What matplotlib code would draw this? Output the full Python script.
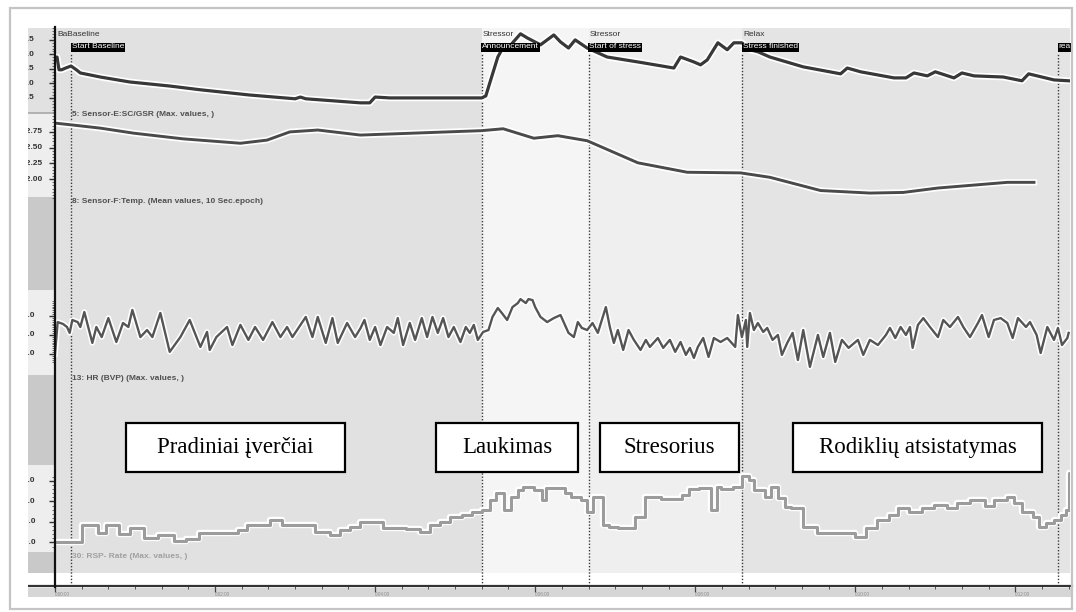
import matplotlib.pyplot as plt
import matplotlib.patheffects as pe
from matplotlib.patches import Rectangle
from matplotlib.lines import Line2D
from matplotlib.transforms import blended_transform_factory
from matplotlib.ticker import MultipleLocator, FixedLocator, FuncFormatter

plt.rcParams['font.family'] = ['Liberation Sans', 'DejaVu Sans']

# session time axis (seconds)
T_END = 761
phase_times = [12, 320, 400, 515, 752]
phase_marks = ["Start Baseline", "Announcement", "Start of stress", "Stress finished", "rea"]
group_times = [2, 321, 401, 516]
group_names = ["BaBaseline", "Stressor", "Stressor", "Relax"]
shade_colors = ['#e1e1e1', '#f5f5f5', '#efefef', '#e4e4e4']

stage_names = ["Pradiniai įverčiai", "Laukimas", "Stresorius", "Rodiklių atsistatymas"]

# 5: SC/GSR
sc_t = [0, 1.5, 3, 5, 8, 12, 16, 19, 34, 56,
        86, 109, 146, 180, 184, 188, 229, 236, 240, 251,
        320, 323, 326, 332, 335, 341, 345, 349, 354, 364,
        374, 379, 385, 390, 399, 414, 437, 464, 469, 479,
        484, 489, 497, 504, 509, 515, 521, 527, 536, 561,
        589, 594, 604, 629, 638, 644, 654, 660, 674, 680,
        689, 711, 725, 730, 749, 760]
sc_v = [3.81, 3.91, 3.47, 3.47, 3.53, 3.60, 3.47, 3.36, 3.22, 3.05,
        2.91, 2.78, 2.60, 2.47, 2.53, 2.47, 2.33, 2.33, 2.53, 2.50,
        2.50, 2.57, 3.02, 3.91, 4.16, 4.29, 4.50, 4.71, 4.57, 4.33,
        4.67, 4.43, 4.22, 4.50, 4.22, 3.91, 3.74, 3.53, 3.91, 3.74,
        3.64, 3.81, 4.40, 4.16, 4.40, 4.40, 4.16, 4.09, 3.91, 3.57,
        3.33, 3.53, 3.40, 3.19, 3.19, 3.36, 3.26, 3.40, 3.19, 3.36,
        3.26, 3.22, 3.09, 3.33, 3.12, 3.09]
sc_ticks = [4.5, 4.0, 3.5, 3.0, 2.5]

# 8: Temp
temp_t = [0, 13, 34, 59, 96, 139, 159, 176, 197, 229, 320, 336, 359,
          377, 399, 437, 474, 514, 536, 574, 611, 636, 662, 714, 734]
temp_v = [32.89, 32.86, 32.81, 32.73, 32.64, 32.57, 32.62, 32.75, 32.78,
          32.70, 32.77, 32.80, 32.65, 32.69, 32.61, 32.26, 32.11, 32.10,
          32.03, 31.82, 31.78, 31.79, 31.86, 31.95, 31.95]
temp_ticks = [32.75, 32.50, 32.25, 32.00]

# 13: HR
hr_t = [0, 2, 6, 9, 11, 13, 17, 19, 22, 28,
        31, 35, 40, 46, 51, 55, 58, 64, 69, 73,
        79, 86, 94, 101, 109, 114, 116, 121, 129, 133,
        139, 145, 150, 156, 163, 169, 174, 178, 188, 193,
        197, 203, 208, 212, 219, 225, 229, 232, 236, 240,
        244, 249, 254, 257, 261, 266, 270, 275, 279, 283,
        287, 291, 295, 299, 304, 308, 311, 314, 317, 321,
        325, 328, 332, 335, 339, 343, 347, 349, 353, 355,
        358, 360, 364, 369, 374, 379, 383, 385, 389, 392,
        395, 399, 403, 407, 413, 416, 419, 422, 426, 430,
        434, 439, 443, 446, 452, 456, 461, 465, 469, 473,
        476, 479, 482, 486, 490, 494, 499, 504, 510, 512,
        515, 518, 519, 521, 524, 527, 531, 534, 538, 542,
        545, 549, 553, 557, 561, 566, 572, 576, 581, 585,
        590, 595, 602, 606, 611, 617, 623, 626, 630, 634,
        638, 641, 643, 647, 651, 656, 662, 666, 671, 677,
        681, 686, 692, 695, 700, 704, 709, 714, 718, 722,
        728, 731, 736, 739, 744, 749, 752, 755, 759, 760]
hr_v = [70.0, 86.8, 85.8, 84.2, 81.1, 87.9, 86.8, 84.2, 92.1, 75.8,
        84.2, 78.9, 88.9, 76.3, 86.3, 84.2, 93.2, 78.9, 82.6, 78.9,
        91.6, 71.1, 78.9, 87.9, 73.7, 81.6, 72.1, 78.9, 84.2, 74.7,
        85.3, 77.4, 84.2, 77.4, 86.8, 78.9, 84.2, 78.9, 89.5, 78.9,
        89.5, 75.8, 88.9, 75.8, 86.3, 78.9, 83.5, 87.9, 77.4, 84.2,
        74.7, 84.2, 81.1, 88.9, 74.7, 86.3, 77.4, 88.9, 78.9, 89.5,
        81.1, 88.9, 78.9, 84.2, 76.3, 84.2, 81.1, 85.3, 77.4, 81.6,
        82.6, 89.5, 94.2, 91.6, 87.9, 94.7, 96.8, 98.9, 96.8, 98.9,
        98.4, 94.7, 89.5, 86.8, 88.9, 90.5, 84.2, 81.1, 78.9, 86.8,
        83.7, 82.6, 86.3, 81.1, 94.7, 84.2, 75.8, 82.6, 72.1, 82.6,
        77.4, 72.1, 77.4, 73.7, 78.4, 73.2, 77.4, 71.1, 76.3, 69.5,
        73.2, 67.9, 73.7, 78.4, 68.4, 78.4, 76.3, 78.4, 73.7, 90.5,
        78.9, 87.9, 73.7, 91.6, 82.6, 86.3, 81.6, 83.7, 77.4, 80.0,
        69.5, 75.8, 81.1, 66.8, 82.6, 63.2, 80.0, 68.4, 81.1, 65.8,
        77.4, 73.2, 77.4, 69.5, 77.4, 74.7, 80.0, 83.7, 78.4, 84.2,
        80.0, 84.2, 73.2, 85.3, 88.9, 84.2, 78.9, 87.9, 84.2, 89.5,
        84.2, 78.9, 86.3, 90.5, 78.9, 87.9, 88.9, 86.3, 78.4, 88.9,
        84.2, 86.8, 80.0, 70.5, 84.2, 77.4, 83.7, 74.7, 78.4, 81.1]
hr_ticks = [90.0, 80.0, 70.0]

# 30: RSP rate (step values)
rsp_t = [0, 20, 32, 38, 48, 56, 67, 77, 89, 98,
         108, 137, 144, 161, 170, 195, 206, 214, 221, 229,
         246, 263, 274, 281, 289, 296, 305, 313, 320, 326,
         331, 337, 342, 347, 351, 359, 365, 368, 382, 387,
         394, 399, 403, 411, 415, 422, 435, 442, 454, 470,
         475, 483, 492, 496, 499, 508, 515, 520, 524, 532,
         537, 542, 547, 552, 561, 571, 600, 608, 616, 625,
         632, 640, 650, 659, 669, 676, 686, 697, 704, 714,
         719, 725, 733, 738, 743, 749, 754, 758, 760, 761]
rsp_v = [10.0, 14.3, 12.3, 14.3, 12.1, 13.5, 11.1, 11.8, 10.4, 10.9,
         12.3, 13.0, 14.3, 15.5, 14.3, 12.6, 11.8, 13.0, 13.8, 15.0,
         13.5, 13.3, 12.6, 14.3, 15.0, 16.2, 16.7, 17.4, 17.9, 20.4,
         22.1, 17.9, 21.1, 22.8, 23.5, 22.8, 20.4, 23.3, 22.1, 21.1,
         20.4, 17.4, 21.1, 14.3, 13.8, 13.5, 16.2, 21.1, 20.6, 21.6,
         23.0, 23.3, 17.9, 23.5, 23.0, 23.5, 26.2, 25.2, 22.8, 21.1,
         23.5, 20.9, 18.7, 18.4, 13.8, 12.3, 11.3, 13.5, 15.5, 16.7,
         18.4, 17.4, 18.4, 19.1, 18.4, 19.6, 20.4, 18.9, 20.4, 21.1,
         19.6, 17.4, 16.2, 13.8, 14.8, 15.5, 16.7, 17.9, 27.0, 27.0]
rsp_ticks = [25.0, 20.0, 15.0, 10.0]

W, H = 1076, 612


def fx(px):
    return px / W


def fy(py):
    return 1 - py / H


def rect(x0, y0, x1, y1):
    return [fx(x0), fy(y1), (x1 - x0) / W, (y1 - y0) / H]


fig = plt.figure(figsize=(W / 100, H / 100), dpi=100)

# background axes: phase shading, markers, time axis
bg = fig.add_axes(rect(55, 28, 1070, 586))
bg.set_xlim(0, T_END)
bg.set_ylim(0, 1)
bg.set_yticks([])
for s in bg.spines.values():
    s.set_visible(False)
edges = [0] + phase_times[1:4] + [T_END]
for i, c in enumerate(shade_colors):
    bg.axvspan(edges[i], edges[i + 1], ymin=13 / 558, ymax=1, color=c, lw=0)
for t in phase_times:
    bg.axvline(t, ymin=0, ymax=(586 - 53) / 558, color='#3a3a3a', lw=1,
               ls=(0, (1, 1.3)))

bg.xaxis.set_major_locator(MultipleLocator(120))
bg.xaxis.set_minor_locator(MultipleLocator(20))
bg.xaxis.set_major_formatter(FuncFormatter(
    lambda v, p: "%d:%02d:%02d" % (v // 3600, (v % 3600) // 60, v % 60)))
bg.tick_params(axis='x', which='major', length=4, width=0.9, color='#444',
               labelsize=3.3, labelcolor='#8a8a8a', pad=0.5)
bg.tick_params(axis='x', which='minor', length=2, width=0.7, color='#555')
for lab in bg.get_xticklabels():
    lab.set_horizontalalignment('left')


def panel(y0, y1, ylim, ticks, minor, fmt, label_x):
    ax = fig.add_axes(rect(55, y0, 1070, y1))
    ax.set_zorder(1)
    ax.patch.set_alpha(0)
    ax.set_xlim(0, T_END)
    ax.set_ylim(*ylim)
    ax.set_xticks([])
    for s in ax.spines.values():
        s.set_visible(False)
    ax.set_yticks(ticks)
    ax.yaxis.set_minor_locator(minor)
    ax.tick_params(axis='y', which='major', length=4.5, width=1, color='#333',
                   labelleft=False)
    ax.tick_params(axis='y', which='minor', length=2, width=0.6, color='#555')
    tr = blended_transform_factory(fig.transFigure, ax.transData)
    for v in ticks:
        ax.text(fx(label_x), v, fmt.format(v), transform=tr, fontsize=6,
                fontweight='bold', color='#333', ha='left', va='center')
    return ax


def halo(w):
    return [pe.Stroke(linewidth=w, foreground='white'), pe.Normal()]


ax_sc = panel(28, 113, (1.98, 4.91), sc_ticks, MultipleLocator(0.1), "{:.1f}", 23)
ax_sc.plot(sc_t, sc_v, color='#383838', lw=2.3, path_effects=halo(4.8))

ax_tp = panel(113, 200, (31.67, 33.05), temp_ticks, MultipleLocator(0.05), "{:.2f}", 21.5)
ax_tp.plot(temp_t, temp_v, color='#4a4a4a', lw=2.1, path_effects=halo(4.6))

ax_hr = panel(290, 375, (58.9, 103.7), hr_ticks, FixedLocator(list(range(66, 99))),
              "{:.1f}", 19)
ax_hr.plot(hr_t, hr_v, color='#555555', lw=1.7, path_effects=halo(4.0))

ax_rsp = panel(465, 552, (7.68, 28.9), rsp_ticks, FixedLocator(list(range(9, 27))),
               "{:.1f}", 19)
ax_rsp.plot(rsp_t, rsp_v, color='#9c9c9c', lw=2.2, drawstyle='steps-post',
            path_effects=halo(4.6))

# left label strip
strip = [(28, 113, '#e1e1e1'), (113, 197, '#eeeeee'), (197, 290, '#c9c9c9'),
         (290, 375, '#eeeeee'), (375, 465, '#c9c9c9'), (465, 552, '#eeeeee'),
         (552, 573, '#c9c9c9')]
for y0, y1, c in strip:
    fig.add_artist(Rectangle((fx(28), fy(y1)), 27 / W, (y1 - y0) / H,
                             transform=fig.transFigure, color=c, lw=0, zorder=-1))
fig.add_artist(Line2D([fx(28), fx(53)], [fy(113), fy(113)], color='#a8a8a8', lw=1.2,
                      zorder=2))
fig.add_artist(Rectangle((fx(28), fy(597)), 1044 / W, 9 / H, transform=fig.transFigure,
                         color='#d6d6d6', lw=0, zorder=-1))
fig.add_artist(Line2D([fx(28), fx(1072)], [fy(586), fy(586)], color='#333333', lw=1.6,
                      zorder=2))
fig.add_artist(Line2D([fx(55), fx(55)], [fy(27), fy(587)], color='#111111', lw=1.6,
                      zorder=2))
# screenshot crop at the left edge + outer frame
fig.add_artist(Rectangle((fx(11), fy(600)), 17 / W, 580 / H, transform=fig.transFigure,
                         color='white', lw=0, zorder=3))
fig.add_artist(Rectangle((fx(10), fy(609)), 1062 / W, 601 / H, transform=fig.transFigure,
                         fill=False, ec='#c4c4c4', lw=1.6, zorder=4))

# channel captions
captions = [(115, "5: Sensor-E:SC/GSR (Max. values, )", '#505050'),
            (202, "8: Sensor-F:Temp. (Mean values, 10 Sec.epoch)", '#505050'),
            (379, "13: HR (BVP) (Max. values, )", '#505050'),
            (556, "30: RSP- Rate (Max. values, )", '#a0a0a0')]
for y, s, c in captions:
    fig.text(fx(72), fy(y), s, fontsize=6, fontweight='bold', color=c,
             ha='left', va='center', zorder=3)

# event markers (above the traces)
tr_top = blended_transform_factory(bg.transData, fig.transFigure)
for t, s in zip(group_times, group_names):
    fig.text(t, fy(34), s, transform=tr_top, fontsize=6, color='#333',
             ha='left', va='center', zorder=3)
for t, s in zip(phase_times, phase_marks):
    fig.text(t + 0.5, fy(47), s, transform=tr_top, fontsize=6, color='white',
             ha='left', va='center', zorder=3,
             bbox=dict(boxstyle='square,pad=0.12', fc='black', ec='none'))

# stage boxes
boxes = [(126, 423, 345, 472), (436, 423, 578, 472), (600, 423, 739, 472),
         (793, 423, 1042, 472)]
for (x0, y0, x1, y1), s in zip(boxes, stage_names):
    fig.add_artist(Rectangle((fx(x0), fy(y1)), (x1 - x0) / W, (y1 - y0) / H,
                             transform=fig.transFigure, fc='white', ec='black',
                             lw=1.6, zorder=5))
    fig.text(fx((x0 + x1) / 2), fy((y0 + y1) / 2), s, fontsize=16.5,
             family='Liberation Serif', color='black', ha='center', va='center',
             zorder=6)

fig.savefig('out.png', dpi=100)
